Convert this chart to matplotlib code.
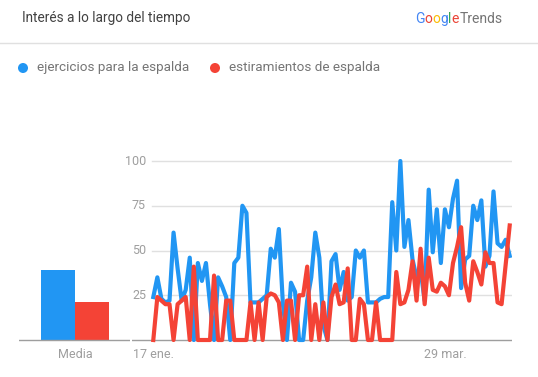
import numpy as np
import matplotlib
matplotlib.use("Agg")
import matplotlib.pyplot as plt

### DATA ------------------------
series_names = ["ejercicios para la espalda", "estiramientos de espalda"]
series_colors = ["#2196F3", "#F44336"]

ejercicios = [24, 35, 23, 21, 22, 60, 40, 22, 28, 46,
              0, 43, 33, 43, 20, 0, 35, 30, 24, 0,
              43, 46, 75, 71, 21, 21, 21, 23, 25, 51,
              46, 62, 20, 0, 32, 27, 0, 0, 22, 35,
              60, 46, 8, 0, 44, 48, 28, 38, 22, 24,
              50, 46, 50, 21, 21, 21, 23, 24, 24, 77,
              50, 100, 52, 67, 45, 35, 39, 22, 84, 49,
              73, 43, 73, 63, 79, 89, 29, 45, 47, 75,
              67, 78, 41, 47, 83, 54, 52, 56, 47]
estiramientos = [0, 24, 22, 20, 20, 0, 20, 22, 24, 0,
                 41, 0, 0, 0, 0, 36, 0, 0, 22, 22,
                 0, 0, 0, 0, 21, 0, 21, 0, 24, 26,
                 25, 21, 0, 22, 22, 0, 25, 25, 41, 0,
                 20, 0, 21, 0, 24, 31, 20, 21, 40, 0,
                 0, 23, 20, 0, 0, 21, 0, 0, 0, 0,
                 38, 20, 21, 28, 44, 22, 51, 20, 46, 28,
                 27, 32, 30, 25, 43, 52, 63, 32, 22, 44,
                 38, 31, 49, 43, 43, 21, 20, 42, 64]
media = [39, 21]

x_tick_pos = [0, 72]
x_tick_labels = ["17 ene.", "29 mar."]
y_ticks = [25, 50, 75, 100]

### FIGURE SETUP ------------------------
W, H = 538, 377
plt.rcParams['font.family'] = ['Roboto', 'DejaVu Sans']
fig = plt.figure(figsize=(W / 100, H / 100), dpi=100)
fig.patch.set_facecolor("white")

# helper: pixel box -> figure fraction
def px_axes(x0, y0, x1, y1):
    return fig.add_axes([x0 / W, (H - y1) / H, (x1 - x0) / W, (y1 - y0) / H])

grid_col = "#e0e0e0"
base_col = "#9e9e9e"
txt_col = "#9e9e9e"

# y scale shared by both panels: px = 340 - v*1.79
y_lo = -5 / 1.79
y_hi = 190 / 1.79

### MAIN LINE CHART ------------------------
ax = px_axes(132, 150, 512, 345)
n = len(ejercicios)
xs = np.arange(n)
step = 4.05
ax.set_xlim((132 - 153.3) / step, (512 - 153.3) / step)
ax.set_ylim(y_lo, y_hi)
ax.axis("off")
grid_start = (152 - 132) / 380
for v in y_ticks:
    ax.axhline(v, xmin=grid_start, xmax=1, color=grid_col, lw=1, zorder=0)
    ax.text((146 - 153.3) / step, v, str(v), ha="right", va="center",
            fontsize=9, color=txt_col)
ax.axhline(0, color=base_col, lw=1, zorder=1)
ax.plot(xs, ejercicios, color=series_colors[0], lw=3.0, zorder=3)
ax.plot(xs, estiramientos, color=series_colors[1], lw=3.0, zorder=4)
for p, lab in zip(x_tick_pos, x_tick_labels):
    ax.text(p, -4.2, lab, ha="center", va="top", fontsize=9, color=txt_col)

### MEDIA BARS ------------------------
bx = px_axes(19, 150, 130, 345)
bx.set_xlim((19 - 75) / 34, (130 - 75) / 34)
bx.set_ylim(y_lo, y_hi)
bx.axis("off")
bx.bar([-0.5, 0.5], media, width=1.0, color=series_colors, zorder=2)
bx.axhline(0, color=base_col, lw=1, zorder=3)
bx.text(0, -4.2, "Media", ha="center", va="top", fontsize=9, color=txt_col)

### HEADER ------------------------
hx = fig.add_axes([0, 0, 1, 1], zorder=-1)
hx.set_xlim(0, W)
hx.set_ylim(H, 0)
hx.axis("off")
hx.text(22, 18, "Interés a lo largo del tiempo", ha="left", va="center",
        fontsize=9.8, color="#424242")
hx.plot([0, W], [43, 43], color=grid_col, lw=1)

# legend
for cx, col, name in zip([23, 215], series_colors, series_names):
    hx.scatter([cx], [68], s=52, color=col, edgecolors="none")
    hx.text(cx + 14, 68, name, ha="left", va="center", fontsize=9.7,
            color="#757575")

# Google Trends logo, letter by letter
fig.canvas.draw()
renderer = fig.canvas.get_renderer()
logo = [("G", "#4285F4"), ("o", "#EA4335"), ("o", "#FBBC05"),
        ("g", "#4285F4"), ("l", "#34A853"), ("e", "#EA4335")]
xpos = 415
for ch, col in logo:
    t = hx.text(xpos, 19, ch, ha="left", va="center", fontsize=10,
                color=col)
    bb = t.get_window_extent(renderer)
    xpos += bb.width
hx.text(xpos + 1, 19, "Trends", ha="left", va="center", fontsize=10,
        color="#757575")

fig.savefig("out.png", dpi=100, facecolor="white")
